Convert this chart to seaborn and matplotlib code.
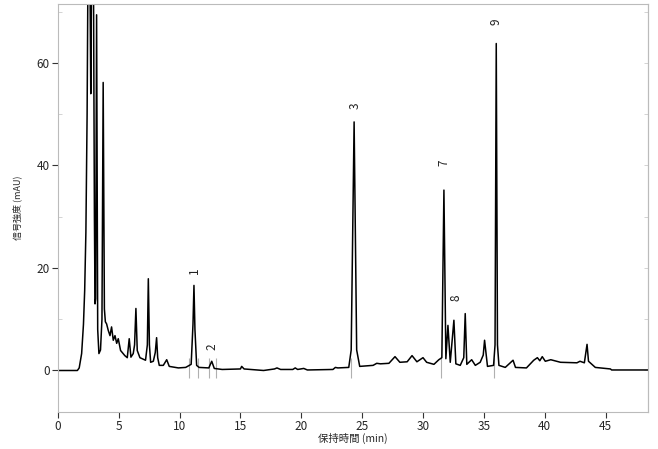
import matplotlib
matplotlib.use("Agg")
import matplotlib.pyplot as plt
import seaborn as sns
import pandas as pd
from matplotlib.ticker import MultipleLocator

# Chromatogram trace (time in min, signal in mAU)
time_min = [0.0, 1.6, 1.75, 1.95, 2.1, 2.2, 2.3, 2.4, 2.5, 2.6, 2.7, 2.8, 2.9, 3.0, 3.05, 3.1,
            3.18, 3.27, 3.37, 3.5, 3.62, 3.72, 3.82, 3.9, 4.0, 4.14, 4.28, 4.41, 4.55, 4.69,
            4.83, 4.96, 5.15, 5.5, 5.7, 5.86, 6.0, 6.19, 6.3, 6.41, 6.52, 6.74, 7.2, 7.35,
            7.43, 7.52, 7.62, 7.84, 8.0, 8.11, 8.2, 8.33, 8.66, 8.94, 9.15, 9.9, 10.5, 10.95,
            11.1, 11.18, 11.26, 11.4, 11.6, 12.4, 12.64, 12.85, 13.5, 15.0, 15.1, 15.3, 16.9,
            17.8, 18.0, 18.3, 19.3, 19.5, 19.7, 20.2, 20.5, 22.6, 22.8, 23.0, 23.9, 24.1,
            24.34, 24.55, 24.8, 25.9, 26.2, 26.5, 27.2, 27.7, 28.1, 28.7, 29.1, 29.5, 30.0,
            30.3, 30.9, 31.3, 31.55, 31.72, 31.88, 32.05, 32.24, 32.54, 32.7, 33.06, 33.35,
            33.47, 33.6, 34.0, 34.3, 34.7, 34.95, 35.06, 35.3, 35.8, 35.92, 36.02, 36.12,
            36.24, 36.76, 37.4, 37.6, 38.5, 39.1, 39.4, 39.6, 39.8, 40.05, 40.5, 41.3, 42.65,
            42.9, 43.26, 43.48, 43.6, 44.16, 45.4, 45.5, 48.5]
signal_mau = [0.0, 0.0, 0.5, 3.3, 9.0, 15.6, 27.0, 50.0, 90.0, 90.0, 54.0, 90.0, 90.0, 30.0, 13.0, 14.0,
              69.4, 8.0, 3.3, 4.0, 10.0, 56.2, 12.0, 9.5, 9.1, 7.8, 6.8, 8.5, 5.9, 6.8,
              5.3, 6.2, 3.9, 2.9, 2.5, 6.2, 2.6, 3.3, 5.0, 12.1, 3.9, 2.5, 2.0, 5.0,
              17.9, 5.0, 1.6, 1.8, 3.5, 6.4, 2.5, 1.0, 1.0, 2.1, 0.8, 0.5, 0.6, 1.2,
              9.0, 16.6, 8.0, 1.0, 0.6, 0.5, 1.8, 0.4, 0.2, 0.3, 0.8, 0.3, 0.0,
              0.3, 0.5, 0.2, 0.2, 0.5, 0.2, 0.4, 0.1, 0.2, 0.6, 0.5, 0.6, 4.0,
              48.5, 4.0, 0.8, 1.0, 1.4, 1.3, 1.4, 2.7, 1.6, 1.7, 2.9, 1.7, 2.5,
              1.6, 1.2, 2.1, 2.5, 35.2, 2.3, 8.8, 1.6, 9.8, 1.3, 1.0, 2.5,
              11.1, 1.2, 2.1, 1.0, 1.6, 3.0, 5.9, 0.8, 1.0, 5.0, 63.8, 5.0,
              1.0, 0.6, 2.0, 0.6, 0.5, 2.0, 2.5, 1.9, 2.7, 1.8, 2.1, 1.6, 1.5,
              1.8, 1.5, 5.1, 1.8, 0.6, 0.3, 0.1, 0.1]

# Peak numbering labels
peak_labels = ["1", "2", "3", "7", "8", "9"]
peak_times = [11.2, 12.66, 24.4, 31.7, 32.7, 36.0]
label_heights = [19.5, 4.7, 51.6, 40.5, 14.1, 68.0]

# Integration markers (peak start/end)
marker_times = [10.8, 11.55, 12.45, 13.0, 24.1, 31.45, 35.8]

x_ticks = [0, 5, 10, 15, 20, 25, 30, 35, 40, 45]
y_ticks = [0, 20, 40, 60]

sns.set_theme(style="white")
plt.rcParams['font.family'] = ['Noto Sans CJK JP', 'DejaVu Sans']

fig = plt.figure(figsize=(6.58, 4.49), dpi=100)
ax = fig.add_axes([0.088, 0.0824, 0.897, 0.9086])

df = pd.DataFrame({"t": time_min, "s": signal_mau})
sns.lineplot(data=df, x="t", y="s", ax=ax, color="black", linewidth=1.1,
             sort=False, estimator=None)

ax.vlines(marker_times, -1.5, 2.5, color="#b0b0b0", linewidth=0.8, zorder=1)

for lab, t, h in zip(peak_labels, peak_times, label_heights):
    ax.text(t, h, lab, rotation=90, ha="center", va="center", fontsize=8.5, color="#222222")

ax.set_xlim(0, 48.5)
ax.set_ylim(-8.1, 71.5)
ax.set_xticks(x_ticks)
ax.set_yticks(y_ticks)
ax.yaxis.set_minor_locator(MultipleLocator(10))

ax.set_xlabel("保持時間 (min)", fontsize=7.5, labelpad=0)
ax.set_ylabel("信号強度 (mAU)", fontsize=6.5, labelpad=10)

for side in ["top", "right", "left", "bottom"]:
    ax.spines[side].set_color("#bbbbbb")
    ax.spines[side].set_linewidth(0.8)

ax.tick_params(axis="both", which="major", direction="out", length=4, width=0.8,
               color="#333333", labelsize=8.5, bottom=True, left=True, right=False, pad=2)
ax.tick_params(axis="y", which="minor", direction="in", length=3, width=0.6,
               color="#cccccc", left=True, right=False)

# inward grey ticks along the right frame every 10 mAU
sec = ax.secondary_yaxis("right")
sec.set_yticks([0, 10, 20, 30, 40, 50, 60, 70])
sec.tick_params(direction="in", length=3, width=0.6, color="#cccccc", labelright=False)
sec.spines["right"].set_color("#bbbbbb")
sec.spines["right"].set_linewidth(0.8)
ax.grid(False)

fig.savefig("out.png", dpi=100)
